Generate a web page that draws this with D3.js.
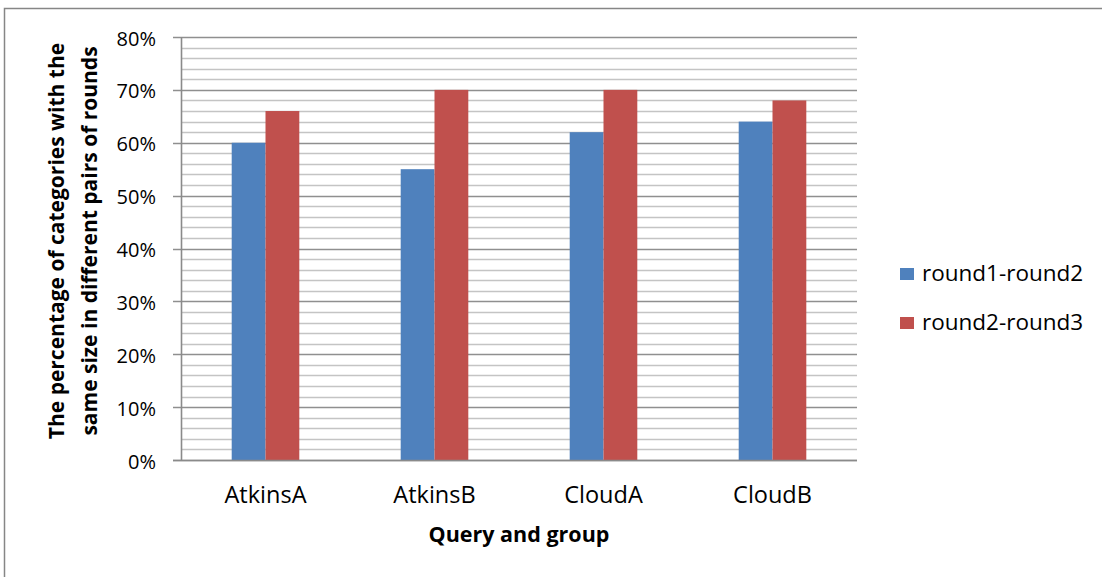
<!DOCTYPE html>
<html>
<head>
<meta charset="utf-8">
<script src="https://cdn.jsdelivr.net/npm/d3@7"></script>
<style>
  html, body { margin: 0; padding: 0; background: #fff; }
  svg { display: block; }
</style>
</head>
<body>
<svg id="chart" width="1102" height="577"></svg>
<script>
// Categories and series values (fractions)
const categories = ["AtkinsA", "AtkinsB", "CloudA", "CloudB"];
const seriesNames = ["round1-round2", "round2-round3"];
const round1Round2 = [0.60, 0.55, 0.62, 0.64];
const round2Round3 = [0.66, 0.70, 0.70, 0.68];
const seriesColors = ["#4f81bd", "#c0504d"];
const majorTicks = [0, 0.1, 0.2, 0.3, 0.4, 0.5, 0.6, 0.7, 0.8];
const yTitleLines = ["The percentage of categories with the", "same size in different pairs of rounds"];
const xTitle = "Query and group";

const seriesValues = [round1Round2, round2Round3];
const rows = categories.map((c, i) => ({
  category: c,
  values: seriesNames.map((s, j) => ({ series: s, value: seriesValues[j][i], color: seriesColors[j] }))
}));

const svg = d3.select("#chart");
const FONT = "'Open Sans', sans-serif";

// Chart frame
svg.append("rect")
  .attr("x", 4.5).attr("y", 8.5)
  .attr("width", 1200).attr("height", 700)
  .attr("fill", "#fff").attr("stroke", "#868686").attr("stroke-width", 1.5);

const plot = { left: 181, right: 857, top: 37, bottom: 460 };

const y = d3.scaleLinear().domain([0, 0.8]).range([plot.bottom, plot.top]);
const x0 = d3.scaleBand().domain(categories).range([plot.left, plot.right]).paddingInner(0).paddingOuter(0);
const x1 = d3.scaleBand().domain(seriesNames).range([0, x0.bandwidth()]).paddingInner(0).paddingOuter(1.5);

// Minor gridlines every 2%
const minorTicks = d3.range(0, 0.8001, 0.02).filter(v => Math.abs(Math.round(v * 100) % 10) !== 0);
svg.append("g").selectAll("line").data(minorTicks).join("line")
  .attr("x1", plot.left).attr("x2", plot.right)
  .attr("y1", d => Math.round(y(d)) + 0.5).attr("y2", d => Math.round(y(d)) + 0.5)
  .attr("stroke", "#c4c4c4").attr("stroke-width", 1.6);

// Major gridlines with ticks extending left of the axis
svg.append("g").selectAll("line").data(majorTicks).join("line")
  .attr("x1", plot.left - 8).attr("x2", plot.right)
  .attr("y1", d => Math.round(y(d)) + 0.5).attr("y2", d => Math.round(y(d)) + 0.5)
  .attr("stroke", "#8f8f8f").attr("stroke-width", 1.6);

// Bars
const groups = svg.append("g").selectAll("g").data(rows).join("g")
  .attr("transform", d => `translate(${x0(d.category)},0)`);
groups.selectAll("rect").data(d => d.values).join("rect")
  .attr("x", d => x1(d.series))
  .attr("width", x1.bandwidth())
  .attr("y", d => y(d.value))
  .attr("height", d => y(0) - y(d.value))
  .attr("fill", d => d.color);

// Axis lines
svg.append("line")
  .attr("x1", plot.left + 0.5).attr("x2", plot.left + 0.5)
  .attr("y1", plot.top).attr("y2", plot.bottom)
  .attr("stroke", "#8a8a8a").attr("stroke-width", 1.6);
svg.append("line")
  .attr("x1", plot.left - 8).attr("x2", plot.right)
  .attr("y1", plot.bottom + 0.5).attr("y2", plot.bottom + 0.5)
  .attr("stroke", "#8a8a8a").attr("stroke-width", 1.6);

// Y tick labels
const fmt = d3.format(".0%");
svg.append("g").selectAll("text").data(majorTicks).join("text")
  .attr("x", 156).attr("y", d => y(d) + 8.5)
  .attr("text-anchor", "end")
  .attr("font-family", FONT).attr("font-size", 20).attr("fill", "#000")
  .text(d => fmt(d));

// Category labels
svg.append("g").selectAll("text").data(categories).join("text")
  .attr("x", d => x0(d) + x0.bandwidth() / 2).attr("y", 503)
  .attr("text-anchor", "middle")
  .attr("font-family", FONT).attr("font-size", 23.5).attr("fill", "#000")
  .text(d => d);

// Axis titles
svg.append("text")
  .attr("x", 519).attr("y", 542)
  .attr("text-anchor", "middle")
  .attr("font-family", FONT).attr("font-size", 21.5).attr("font-weight", "bold")
  .text(xTitle);

const yTitle = svg.append("text")
  .attr("transform", "translate(0,241) rotate(-90)")
  .attr("text-anchor", "middle")
  .attr("font-family", FONT).attr("font-size", 21).attr("font-weight", "bold");
yTitle.selectAll("tspan").data(yTitleLines).join("tspan")
  .attr("x", 0).attr("y", (d, i) => 64 + i * 33)
  .text(d => d);

// Legend
const legend = svg.append("g").selectAll("g").data(seriesNames).join("g")
  .attr("transform", (d, i) => `translate(900,${268 + i * 49})`);
legend.append("rect")
  .attr("width", 14).attr("height", 12)
  .attr("fill", (d, i) => seriesColors[i]);
legend.append("text")
  .attr("x", 22).attr("y", 13)
  .attr("font-family", FONT).attr("font-size", 22.5).attr("fill", "#000")
  .text(d => d);
</script>
</body>
</html>
